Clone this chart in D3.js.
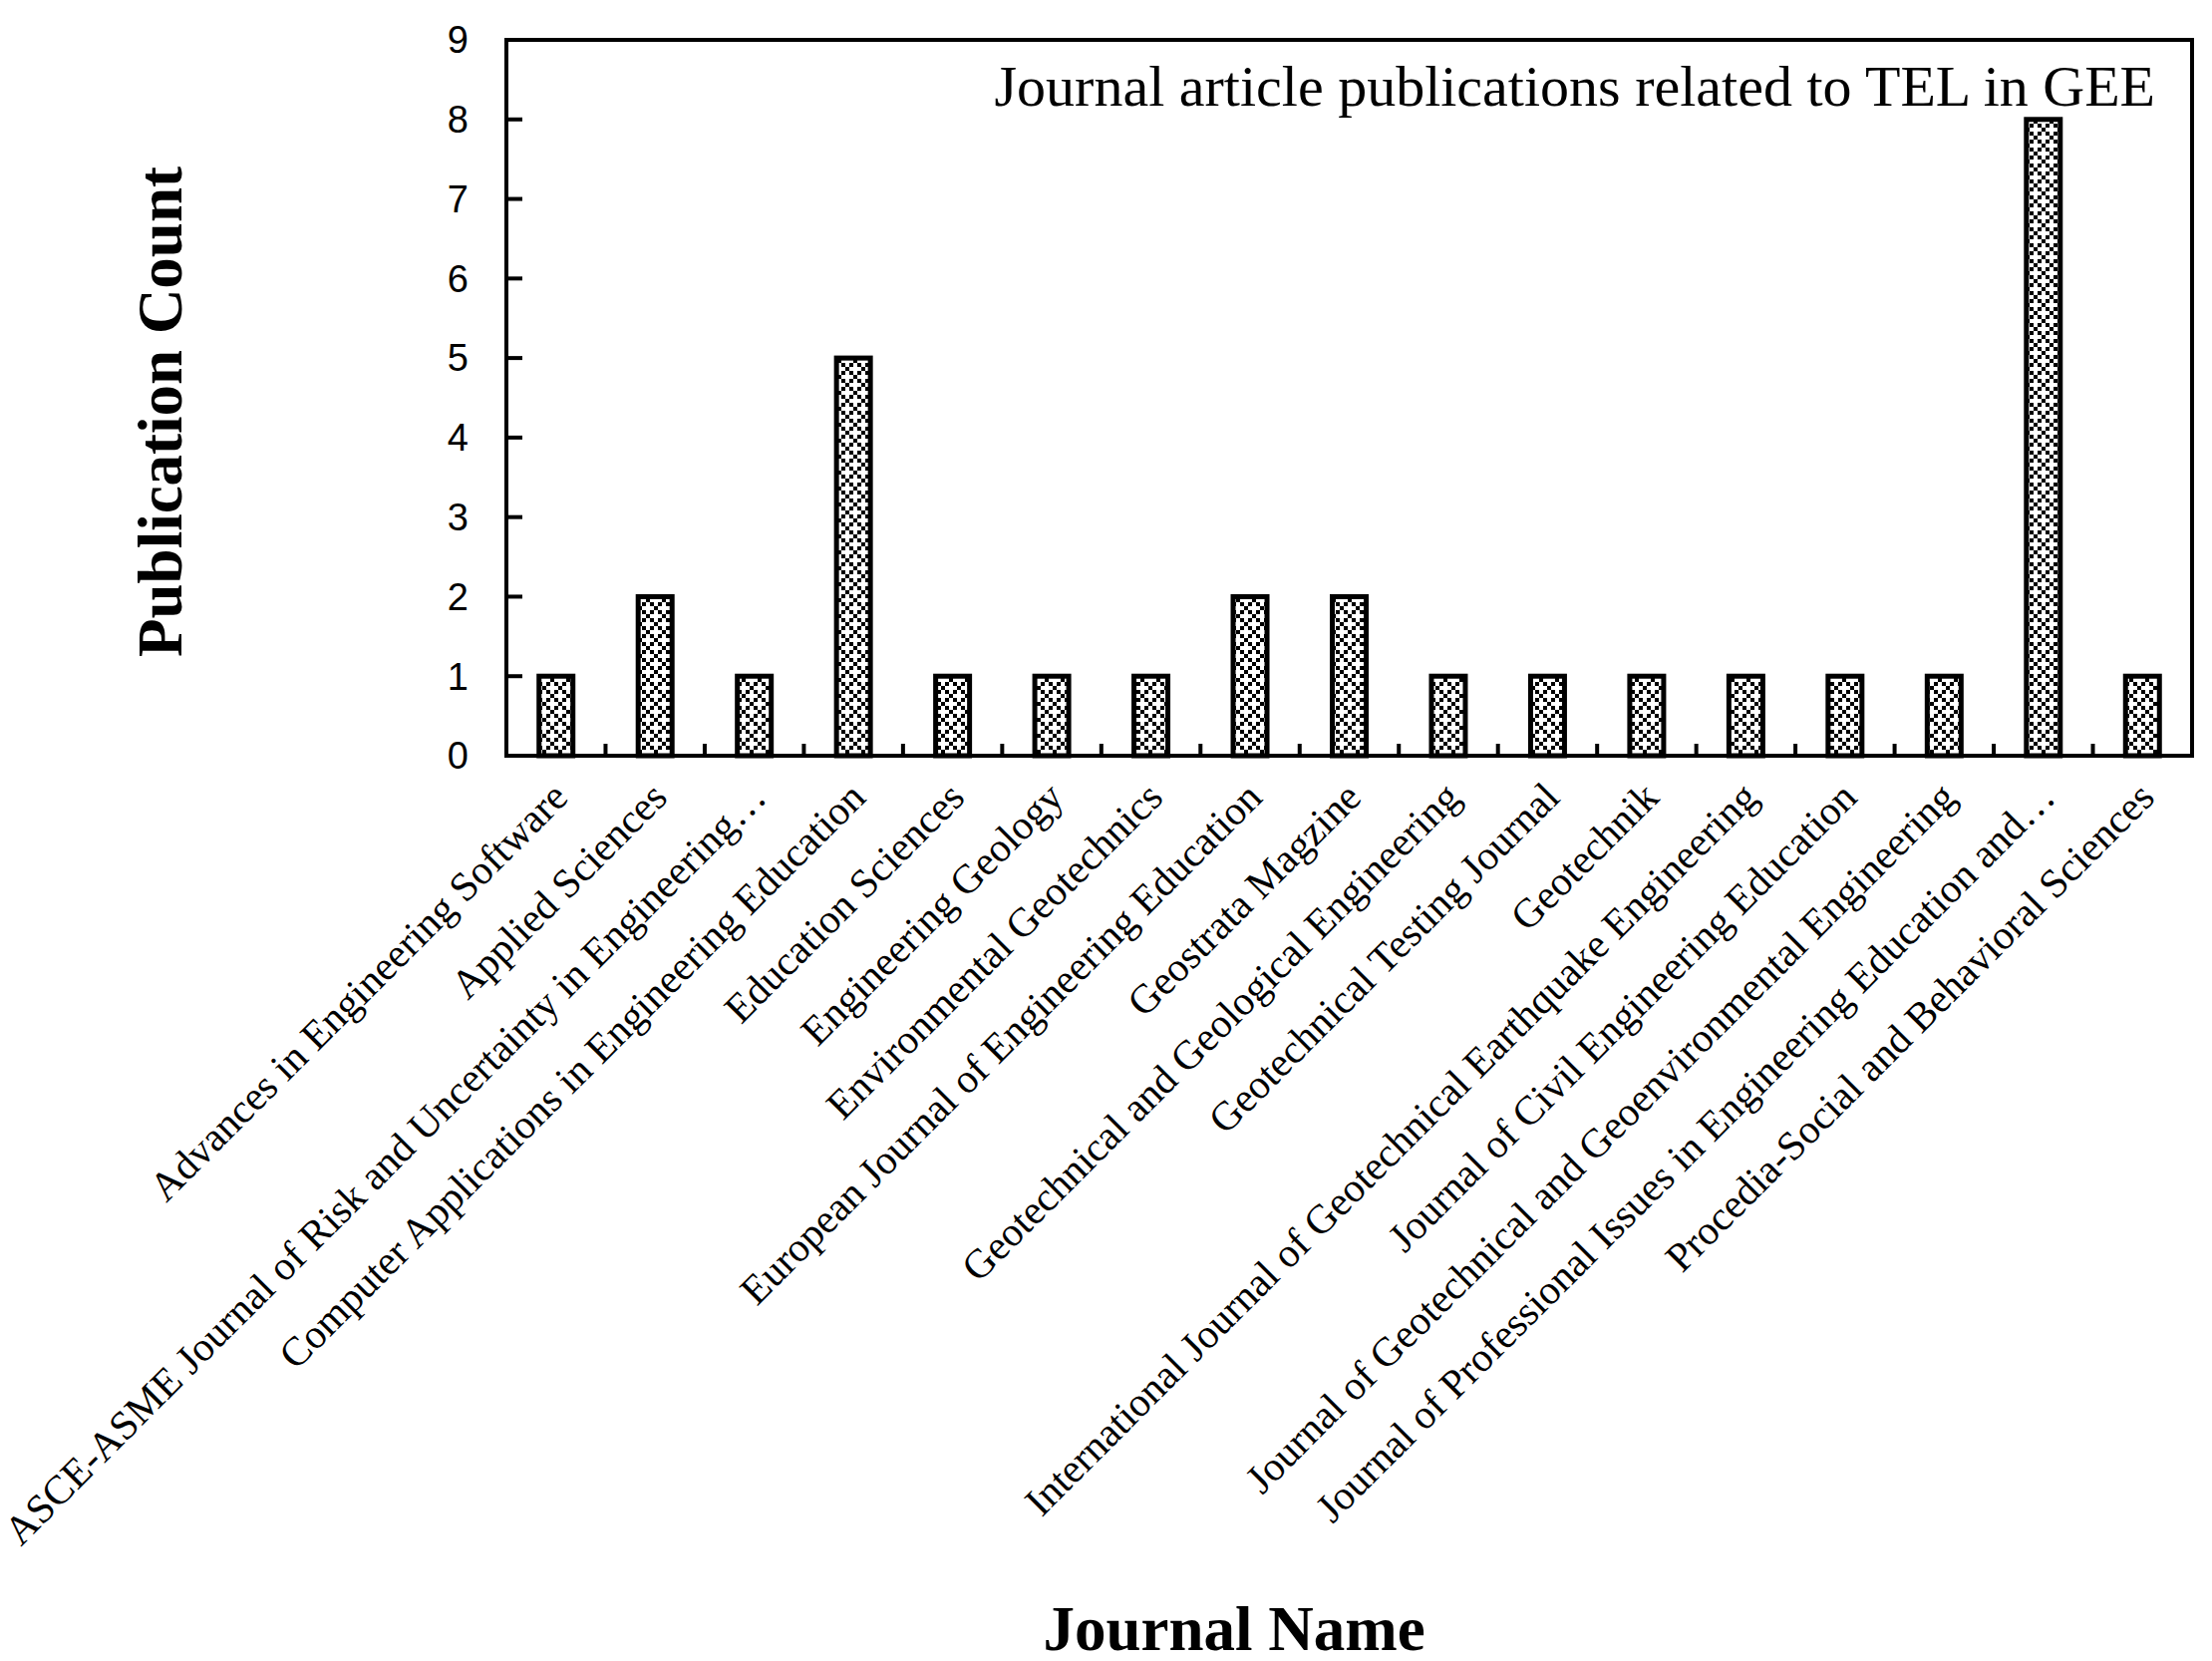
<!DOCTYPE html>
<html><head><meta charset="utf-8">
<script src="https://cdn.jsdelivr.net/npm/d3@7"></script>
<style>body{margin:0;background:#fff}</style></head>
<body><svg id="c" width="2219" height="1666"></svg>
<script>
const categories = ["Advances in Engineering Software","Applied Sciences","ASCE-ASME Journal of Risk and Uncertainty in Engineering…","Computer Applications in Engineering Education","Education Sciences","Engineering Geology","Environmental Geotechnics","European Journal of Engineering Education","Geostrata Magzine","Geotechnical and Geological Engineering","Geotechnical Testing Journal","Geotechnik","International Journal of Geotechnical Earthquake Engineering","Journal of Civil Engineering Education","Journal of Geotechnical and Geoenvironmental Engineering","Journal of Professional Issues in Engineering Education and…","Procedia-Social and Behavioral Sciences"];
const counts = [1,2,1,5,1,1,1,2,2,1,1,1,1,1,1,8,1];
const yTicks = [0,1,2,3,4,5,6,7,8,9];

const svg = d3.select("#c");
const L=508,R=2199,T=40,B=758;
const x = d3.scaleBand().domain(categories).range([L,R]);
const y = d3.scaleLinear().domain([0,9]).range([B,T]);
const bw = 34;

const defs = svg.append("defs");
const p = defs.append("pattern").attr("id","pat").attr("patternUnits","userSpaceOnUse").attr("width",16).attr("height",16);
p.append("rect").attr("width",16).attr("height",16).attr("fill","#fff");
[[0,0],[8,8],[4,4],[12,12],[12,4],[4,12]].forEach(([a,b])=>p.append("rect").attr("x",a).attr("y",b).attr("width",4).attr("height",4).attr("fill","#000"));

svg.selectAll(".bar").data(counts).enter().append("rect")
  .attr("x",(d,i)=>x(categories[i])+x.bandwidth()/2-bw/2)
  .attr("y",d=>y(d)).attr("width",bw).attr("height",d=>B-y(d))
  .attr("fill","url(#pat)").attr("stroke","#000").attr("stroke-width",5);

svg.append("rect").attr("x",L).attr("y",T).attr("width",R-L).attr("height",B-T).attr("fill","none").attr("stroke","#000").attr("stroke-width",4);

yTicks.forEach(t=>{
  svg.append("line").attr("x1",L).attr("x2",L+16).attr("y1",y(t)).attr("y2",y(t)).attr("stroke","#000").attr("stroke-width",4);
  svg.append("text").attr("x",L-38).attr("y",y(t)).attr("dy","0.35em").attr("text-anchor","end")
    .attr("font-family","Liberation Sans, Arial, sans-serif").attr("font-size",38).text(t);
});
categories.forEach((c,i)=>{ if(i>0){
  svg.append("line").attr("x1",x(c)).attr("x2",x(c)).attr("y1",B).attr("y2",B-12).attr("stroke","#000").attr("stroke-width",4);}
});
categories.forEach((c,i)=>{
  const cx=x(c)+x.bandwidth()/2+14, cy=B+44;
  svg.append("text").attr("transform",`translate(${cx},${cy}) rotate(-45)`).attr("text-anchor","end")
    .attr("font-family","Liberation Serif, Times New Roman, serif").attr("font-size",41).text(c);
});
svg.append("text").attr("x",2162).attr("y",106).attr("text-anchor","end")
  .attr("font-family","Liberation Serif, Times New Roman, serif").attr("font-size",58).text("Journal article publications related to TEL in GEE");
svg.append("text").attr("transform","translate(182,413) rotate(-90)").attr("text-anchor","middle")
  .attr("font-family","Liberation Serif, Times New Roman, serif").attr("font-weight","bold").attr("font-size",63).text("Publication Count");
svg.append("text").attr("x",1238).attr("y",1655).attr("text-anchor","middle")
  .attr("font-family","Liberation Serif, Times New Roman, serif").attr("font-weight","bold").attr("font-size",63).text("Journal Name");
</script></body></html>
